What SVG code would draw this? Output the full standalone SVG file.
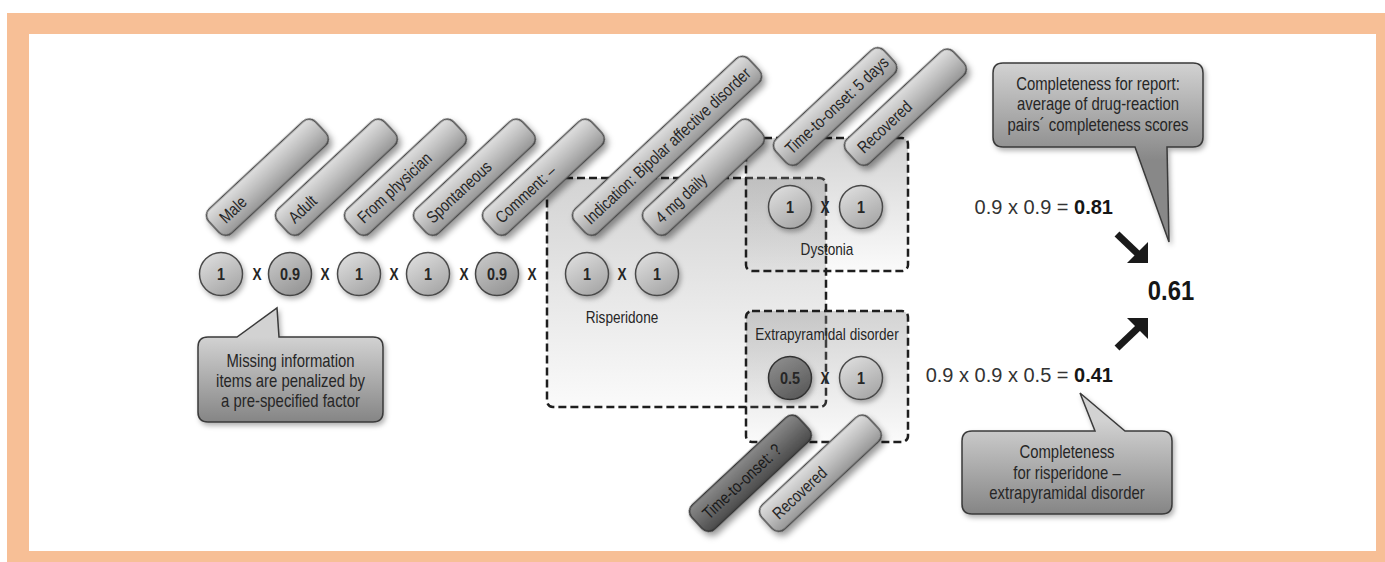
<svg xmlns="http://www.w3.org/2000/svg" width="1385" height="562" viewBox="0 0 1385 562">
<defs>
  <linearGradient id="gTag" x1="0" y1="0" x2="0" y2="1">
    <stop offset="0" stop-color="#e0e0e0"/>
    <stop offset="0.5" stop-color="#bdbdbd"/>
    <stop offset="1" stop-color="#969696"/>
  </linearGradient>
  <linearGradient id="gTagDark" x1="0" y1="0" x2="0" y2="1">
    <stop offset="0" stop-color="#8a8a8a"/>
    <stop offset="0.5" stop-color="#6a6a6a"/>
    <stop offset="1" stop-color="#4a4a4a"/>
  </linearGradient>
  <linearGradient id="gCirc" x1="0.2" y1="0" x2="0.8" y2="1">
    <stop offset="0" stop-color="#dedede"/>
    <stop offset="1" stop-color="#a4a4a4"/>
  </linearGradient>
  <linearGradient id="gCircMid" x1="0.2" y1="0" x2="0.8" y2="1">
    <stop offset="0" stop-color="#c8c8c8"/>
    <stop offset="1" stop-color="#939393"/>
  </linearGradient>
  <linearGradient id="gCircDark" x1="0.2" y1="0" x2="0.8" y2="1">
    <stop offset="0" stop-color="#8e8e8e"/>
    <stop offset="1" stop-color="#575757"/>
  </linearGradient>
  <linearGradient id="gBox" x1="0" y1="0" x2="0" y2="1">
    <stop offset="0" stop-color="#8c8c8c" stop-opacity="0.38"/>
    <stop offset="1" stop-color="#8c8c8c" stop-opacity="0.04"/>
  </linearGradient>
  <linearGradient id="gCallL" gradientUnits="userSpaceOnUse" x1="0" y1="337" x2="0" y2="422">
    <stop offset="0" stop-color="#d2d2d2"/>
    <stop offset="1" stop-color="#858585"/>
  </linearGradient>
  <linearGradient id="gCallT" gradientUnits="userSpaceOnUse" x1="0" y1="63" x2="0" y2="160">
    <stop offset="0" stop-color="#d2d2d2"/>
    <stop offset="1" stop-color="#888888"/>
  </linearGradient>
  <linearGradient id="gCallB" gradientUnits="userSpaceOnUse" x1="0" y1="420" x2="0" y2="514">
    <stop offset="0" stop-color="#d2d2d2"/>
    <stop offset="1" stop-color="#858585"/>
  </linearGradient>
  <filter id="shTag" x="-20%" y="-60%" width="140%" height="220%">
    <feDropShadow dx="-0.5" dy="5" stdDeviation="3" flood-color="#000" flood-opacity="0.4"/>
  </filter>
  <filter id="sh" x="-20%" y="-20%" width="140%" height="150%">
    <feDropShadow dx="2" dy="3" stdDeviation="2.5" flood-color="#000" flood-opacity="0.3"/>
  </filter>
  <style>
    text { font-family: "Liberation Sans", Arial, sans-serif; fill: #262626; }
    .tag { fill: url(#gTag); stroke: #4a4a4a; stroke-width: 1.5; }
    .tagd { fill: url(#gTagDark); stroke: #333; stroke-width: 1.5; }
    .tt { font-size: 17px; }
    .circ { fill: url(#gCirc); stroke: #4a4a4a; stroke-width: 1.5; }
    .circm { fill: url(#gCircMid); stroke: #444; stroke-width: 1.5; }
    .circd { fill: url(#gCircDark); stroke: #333; stroke-width: 1.5; }
    .num { font-size: 17px; font-weight: bold; text-anchor: middle; }
    .x { font-size: 16px; font-weight: bold; text-anchor: middle; }
    .box { fill: url(#gBox); stroke: #1e1e1e; stroke-width: 2.5; stroke-dasharray: 8 4; }
    .lbl { font-size: 16px; text-anchor: middle; }
    .call { stroke: #3a3a3a; stroke-width: 1.5; }
    .ct { font-size: 17.5px; text-anchor: middle; }
    .f { font-size: 20px; text-anchor: end; fill: #333; }
    .arrow { stroke: #1a1a1a; stroke-width: 7; fill: none; }
    .ahead { fill: #1a1a1a; }
  </style>
</defs>

<rect x="7" y="13" width="1378" height="549" fill="#F7BF96"/>
<rect x="29" y="34" width="1347" height="517" fill="#ffffff"/>

<!-- dashed group boxes -->
<g id="box-risperidone">
  <rect class="box" x="547" y="178" width="279" height="229" rx="6"/>
  <g transform="translate(622,323) scale(0.85,1)"><text class="lbl">Risperidone</text></g>
</g>
<g id="box-dystonia">
  <rect class="box" x="746" y="138" width="162" height="133" rx="6"/>
  <g transform="translate(827,255) scale(0.85,1)"><text class="lbl">Dystonia</text></g>
</g>
<g id="box-extrapyramidal">
  <rect class="box" x="746" y="311" width="162" height="131" rx="6"/>
  <g transform="translate(827,340) scale(0.85,1)"><text class="lbl">Extrapyramidal disorder</text></g>
</g>

<!-- tags -->
<g id="tag-male" transform="translate(214,227) rotate(-43)">
  <rect class="tag" filter="url(#shTag)" x="0" y="-16.5" width="146" height="33" rx="9"/>
  <text class="tt" transform="scale(0.82,1)" x="13" y="6">Male</text>
</g>
<g id="tag-adult" transform="translate(283,227) rotate(-43)">
  <rect class="tag" filter="url(#shTag)" x="0" y="-16.5" width="146" height="33" rx="9"/>
  <text class="tt" transform="scale(0.82,1)" x="13" y="6">Adult</text>
</g>
<g id="tag-physician" transform="translate(352,227) rotate(-43)">
  <rect class="tag" filter="url(#shTag)" x="0" y="-16.5" width="146" height="33" rx="9"/>
  <text class="tt" transform="scale(0.82,1)" x="13" y="6">From physician</text>
</g>
<g id="tag-spontaneous" transform="translate(421,227) rotate(-43)">
  <rect class="tag" filter="url(#shTag)" x="0" y="-16.5" width="146" height="33" rx="9"/>
  <text class="tt" transform="scale(0.82,1)" x="13" y="6">Spontaneous</text>
</g>
<g id="tag-comment" transform="translate(490,227) rotate(-43)">
  <rect class="tag" filter="url(#shTag)" x="0" y="-16.5" width="146" height="33" rx="9"/>
  <text class="tt" transform="scale(0.82,1)" x="13" y="6">Comment: –</text>
</g>
<g id="tag-indication" transform="translate(580,227) rotate(-43)">
  <rect class="tag" filter="url(#shTag)" x="0" y="-16.5" width="238" height="33" rx="9"/>
  <text class="tt" transform="scale(0.82,1)" x="11" y="6">Indication: Bipolar affective disorder</text>
</g>
<g id="tag-dose" transform="translate(650,227) rotate(-43)">
  <rect class="tag" filter="url(#shTag)" x="0" y="-16.5" width="146" height="33" rx="9"/>
  <text class="tt" transform="scale(0.82,1)" x="13" y="6">4 mg daily</text>
</g>
<g id="tag-tto-dystonia" transform="translate(781,157) rotate(-43)">
  <rect class="tag" filter="url(#shTag)" x="0" y="-16.5" width="148" height="33" rx="9"/>
  <text class="tt" transform="scale(0.82,1)" x="11" y="6">Time-to-onset: 5 days</text>
</g>
<g id="tag-recovered-dystonia" transform="translate(852,157) rotate(-43)">
  <rect class="tag" filter="url(#shTag)" x="0" y="-16.5" width="146" height="33" rx="9"/>
  <text class="tt" transform="scale(0.82,1)" x="13" y="6">Recovered</text>
</g>
<g id="tag-tto-epd" transform="translate(697,523) rotate(-43)">
  <rect class="tagd" filter="url(#shTag)" x="0" y="-16.5" width="146" height="33" rx="9"/>
  <text class="tt" transform="scale(0.82,1)" x="13" y="6" style="fill:#1a1a1a">Time-to-onset: ?</text>
</g>
<g id="tag-recovered-epd" transform="translate(767,523) rotate(-43)">
  <rect class="tag" filter="url(#shTag)" x="0" y="-16.5" width="146" height="33" rx="9"/>
  <text class="tt" transform="scale(0.82,1)" x="13" y="6">Recovered</text>
</g>

<!-- score circles -->
<g id="c-male" transform="translate(221,274)"><circle class="circ" r="21.5" filter="url(#sh)"/><text class="num" transform="scale(0.85,1)" y="6">1</text></g>
<g id="c-adult" transform="translate(290,274)"><circle class="circm" r="21.5" filter="url(#sh)"/><text class="num" transform="scale(0.85,1)" y="6">0.9</text></g>
<g id="c-physician" transform="translate(359,274)"><circle class="circ" r="21.5" filter="url(#sh)"/><text class="num" transform="scale(0.85,1)" y="6">1</text></g>
<g id="c-spontaneous" transform="translate(428,274)"><circle class="circ" r="21.5" filter="url(#sh)"/><text class="num" transform="scale(0.85,1)" y="6">1</text></g>
<g id="c-comment" transform="translate(497,274)"><circle class="circm" r="21.5" filter="url(#sh)"/><text class="num" transform="scale(0.85,1)" y="6">0.9</text></g>
<g id="c-indication" transform="translate(587,274)"><circle class="circ" r="21.5" filter="url(#sh)"/><text class="num" transform="scale(0.85,1)" y="6">1</text></g>
<g id="c-dose" transform="translate(657,274)"><circle class="circ" r="21.5" filter="url(#sh)"/><text class="num" transform="scale(0.85,1)" y="6">1</text></g>
<g id="c-tto-dystonia" transform="translate(790,207)"><circle class="circ" r="21.5" filter="url(#sh)"/><text class="num" transform="scale(0.85,1)" y="6">1</text></g>
<g id="c-rec-dystonia" transform="translate(861,207)"><circle class="circ" r="21.5" filter="url(#sh)"/><text class="num" transform="scale(0.85,1)" y="6">1</text></g>
<g id="c-tto-epd" transform="translate(790,378)"><circle class="circd" r="21.5" filter="url(#sh)"/><text class="num" transform="scale(0.85,1)" y="6">0.5</text></g>
<g id="c-rec-epd" transform="translate(861,378)"><circle class="circ" r="21.5" filter="url(#sh)"/><text class="num" transform="scale(0.85,1)" y="6">1</text></g>

<!-- multiplication signs -->
<g id="times-signs">
  <g transform="translate(257,280) scale(0.85,1)"><text class="x">X</text></g>
  <g transform="translate(325,280) scale(0.85,1)"><text class="x">X</text></g>
  <g transform="translate(394,280) scale(0.85,1)"><text class="x">X</text></g>
  <g transform="translate(464,280) scale(0.85,1)"><text class="x">X</text></g>
  <g transform="translate(532,280) scale(0.85,1)"><text class="x">X</text></g>
  <g transform="translate(622,280) scale(0.85,1)"><text class="x">X</text></g>
  <g transform="translate(825,213) scale(0.85,1)"><text class="x">X</text></g>
  <g transform="translate(825,384) scale(0.85,1)"><text class="x">X</text></g>
</g>

<!-- callouts -->
<g id="callout-missing">
  <path class="call" fill="url(#gCallL)" filter="url(#sh)" d="M208,337 H237 L277,308 L279,337 H373 Q383,337 383,347 V412 Q383,422 373,422 H208 Q198,422 198,412 V347 Q198,337 208,337 Z"/>
  <g transform="translate(290.5,0) scale(0.85,1)">
    <text class="ct" y="367">Missing information</text>
    <text class="ct" y="387">items are penalized by</text>
    <text class="ct" y="407">a pre-specified factor</text>
  </g>
</g>
<g id="callout-report">
  <path class="call" fill="url(#gCallT)" filter="url(#sh)" d="M1003,63 H1193 Q1203,63 1203,73 V137 Q1203,147 1193,147 H1167 L1169,242 L1135,147 H1003 Q993,147 993,137 V73 Q993,63 1003,63 Z"/>
  <g transform="translate(1098,0) scale(0.85,1)">
    <text class="ct" y="90">Completeness for report:</text>
    <text class="ct" y="110.5">average of drug-reaction</text>
    <text class="ct" y="131">pairs´ completeness scores</text>
  </g>
</g>
<g id="callout-pair">
  <path class="call" fill="url(#gCallB)" filter="url(#sh)" d="M972,431 H1095 L1080,393 L1125,431 H1162 Q1172,431 1172,441 V504 Q1172,514 1162,514 H972 Q962,514 962,504 V441 Q962,431 972,431 Z"/>
  <g transform="translate(1067,0) scale(0.85,1)">
    <text class="ct" y="458">Completeness</text>
    <text class="ct" y="479">for risperidone –</text>
    <text class="ct" y="499">extrapyramidal disorder</text>
  </g>
</g>

<!-- formulas and result -->
<g id="formula-dystonia">
  <text class="f" x="1113" y="214">0.9 x 0.9 = <tspan font-weight="bold" fill="#161616">0.81</tspan></text>
</g>
<g id="formula-epd">
  <text class="f" x="1113" y="382">0.9 x 0.9 x 0.5 = <tspan font-weight="bold" fill="#161616">0.41</tspan></text>
</g>
<g id="result">
  <g transform="translate(1171,300) scale(0.85,1)"><text style="font-size:28px;font-weight:bold;text-anchor:middle;fill:#161616">0.61</text></g>
</g>

<!-- connectors -->
<g id="connectors">
  <line class="arrow" x1="1117" y1="234" x2="1138" y2="254"/>
  <path class="ahead" d="M1148,263 L1127,263 L1148,242 Z"/>
  <line class="arrow" x1="1117" y1="348" x2="1138" y2="328"/>
  <path class="ahead" d="M1148,318 L1127,318 L1148,339 Z"/>
</g>
</svg>
